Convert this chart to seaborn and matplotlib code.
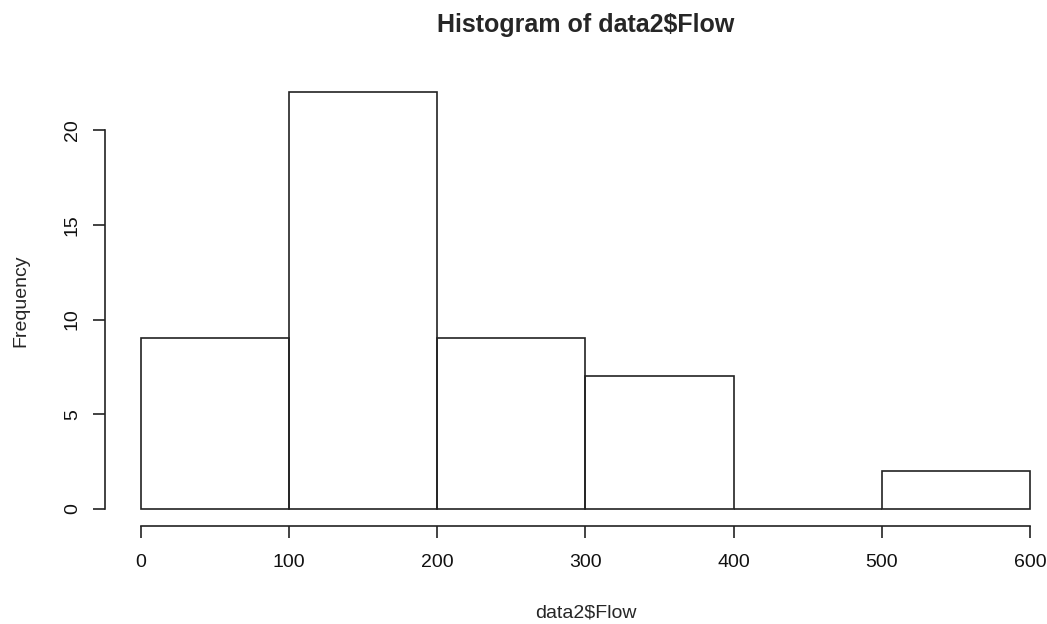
import numpy as np
import pandas as pd
import matplotlib
matplotlib.use("Agg")
import matplotlib.pyplot as plt
import seaborn as sns

# 直方图数据
bin_edges = [0, 100, 200, 300, 400, 500, 600]
counts = [9, 22, 9, 7, 0, 2]
x_ticks = [0, 100, 200, 300, 400, 500, 600]
y_ticks = [0, 5, 10, 15, 20]

centers = [(a + b) / 2 for a, b in zip(bin_edges[:-1], bin_edges[1:])]
df = pd.DataFrame({"Flow": centers, "n": counts})

sns.set_style("white")
plt.rcParams['font.family'] = ['Liberation Sans', 'DejaVu Sans']

fig = plt.figure(figsize=(10.47, 6.24), dpi=100)
ax = fig.add_axes([0.1007, 0.1575, 0.917, 0.7216])

line_col = '#222222'
sns.histplot(data=df, x="Flow", weights="n", bins=bin_edges, fill=False,
             element="bars", color=line_col, linewidth=1.2, ax=ax)

ax.set_xlim(-24, 624)
ax.set_ylim(-0.88, 22.88)

# R 风格的坐标轴
for s in ['top', 'right']:
    ax.spines[s].set_visible(False)
ax.spines['bottom'].set_bounds(0, 600)
ax.spines['left'].set_bounds(0, 20)
for s in ['bottom', 'left']:
    ax.spines[s].set_color(line_col)
    ax.spines[s].set_linewidth(1.2)

ax.set_xticks(x_ticks)
ax.set_yticks(y_ticks)
ax.tick_params(axis='both', direction='out', length=8.6, width=1.2,
               bottom=True, left=True,
               color=line_col, labelsize=14, labelcolor='#111111')
ax.tick_params(axis='x', pad=12)
ax.tick_params(axis='y', pad=9)
for lab in ax.get_yticklabels():
    lab.set_rotation(90)
    lab.set_va('center')

ax.set_title(r"Histogram of data2\$Flow", fontsize=18, fontweight='bold', pad=31)
ax.set_xlabel(r"data2\$Flow", fontsize=14, labelpad=24)
ax.set_ylabel("Frequency", fontsize=14, labelpad=25)

fig.savefig("out.png", dpi=100)
plt.close()
